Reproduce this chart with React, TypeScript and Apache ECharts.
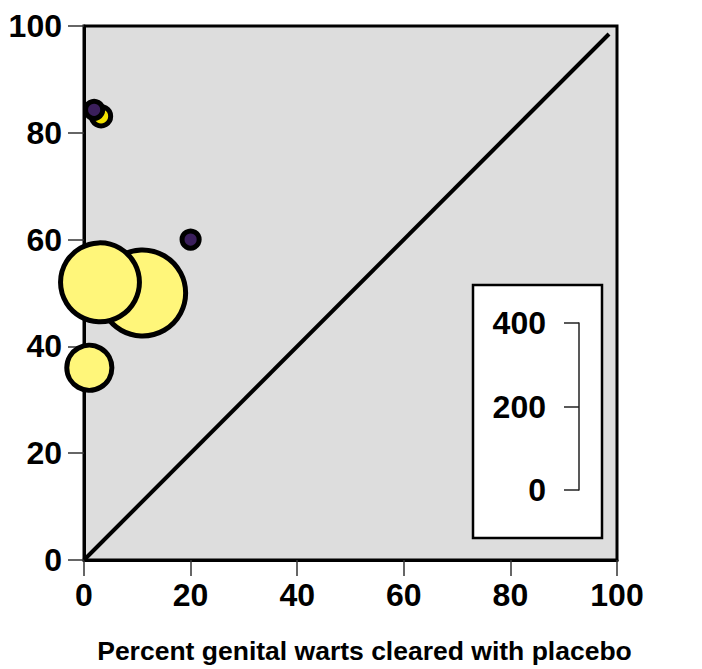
import React, { useEffect, useRef } from "react";
import * as echarts from "echarts";

// Data
const paleX = [11, 3, 1];
const paleY = [50, 52, 36];
const paleN = [206, 189, 108];
const brightX = [3.2];
const brightY = [83.1];
const brightN = [46];
const purpleX = [1.9, 20];
const purpleY = [84.3, 60];
const purpleN = [41, 41];
const diagX = [0, 98.5];
const diagY = [0, 98.5];
const axisTicks = [0, 20, 40, 60, 80, 100];
const sizeTicks = [0, 200, 400];
const xTitle = "Percent genital warts cleared with placebo";

const PX_PER_UNIT = 167 / 400;
const FONT = "'Liberation Sans', Arial, Helvetica, sans-serif";

const zip = (xs: number[], ys: number[], ns: number[]) => xs.map((x, i) => [x, ys[i], ns[i]]);

export default function App() {
  const ref = useRef<HTMLDivElement>(null);
  useEffect(() => {
    if (!ref.current) return;
    const chart = echarts.init(ref.current, undefined, { renderer: "svg" });
    const labelStyle = { fontSize: 32, fontWeight: "bold", color: "#000", fontFamily: FONT };
    const bubble = (data: number[][], color: string) => ({
      type: "scatter",
      xAxisIndex: 0,
      yAxisIndex: 0,
      data,
      symbolSize: (v: number[]) => v[2] * PX_PER_UNIT,
      itemStyle: { color, borderColor: "#000", borderWidth: 5, opacity: 1 },
      z: 3,
    });
    chart.setOption({
      animation: false,
      grid: [
        { left: 84, top: 26, width: 533, height: 534, show: true, backgroundColor: "#dddddd", borderColor: "#000", borderWidth: 3, z: 0 },
        { left: 579, top: 323, width: 0, height: 400 * PX_PER_UNIT, z: 4 },
        { left: 473, top: 285, width: 129, height: 253, show: true, backgroundColor: "#fff", borderColor: "#000", borderWidth: 2.5, z: 3 },
      ],
      xAxis: [
        {
          gridIndex: 0,
          type: "value",
          min: axisTicks[0],
          max: axisTicks[axisTicks.length - 1],
          interval: 20,
          axisLine: { show: true, lineStyle: { color: "#000", width: 3 } },
          axisTick: { show: true, length: 16, lineStyle: { color: "#333", width: 1.5 } },
          axisLabel: { ...labelStyle, margin: 19 },
          splitLine: { show: false },
          name: xTitle,
          nameLocation: "middle",
          nameGap: 77,
          nameTextStyle: { fontSize: 26.5, fontWeight: "bold", color: "#000", fontFamily: FONT, padding: [0, 0, 0, 28] },
        },
        { gridIndex: 1, type: "value", show: false, min: 0, max: 1 },
        { gridIndex: 2, type: "value", show: false, min: 0, max: 1 },
      ],
      yAxis: [
        {
          gridIndex: 0,
          type: "value",
          min: axisTicks[0],
          max: axisTicks[axisTicks.length - 1],
          interval: 20,
          axisLine: { show: true, lineStyle: { color: "#000", width: 3 } },
          axisTick: { show: true, length: 16, lineStyle: { color: "#333", width: 1.5 } },
          axisLabel: { ...labelStyle, margin: 22 },
          splitLine: { show: false },
        },
        {
          gridIndex: 1,
          type: "value",
          position: "left",
          min: sizeTicks[0],
          max: sizeTicks[sizeTicks.length - 1],
          interval: 200,
          z: 6,
          axisLine: { show: true, lineStyle: { color: "#222", width: 1.5 } },
          axisTick: { show: true, length: 15, lineStyle: { color: "#222", width: 1.5 } },
          axisLabel: { ...labelStyle, margin: 33, padding: [8, 0, 0, 0] },
          splitLine: { show: false },
        },
        { gridIndex: 2, type: "value", show: false, min: 0, max: 1 },
      ],
      series: [
        {
          type: "line",
          xAxisIndex: 0,
          yAxisIndex: 0,
          data: diagX.map((x, i) => [x, diagY[i]]),
          showSymbol: false,
          symbol: "none",
          lineStyle: { color: "#000", width: 4 },
          z: 2,
        },
        bubble(zip(paleX, paleY, paleN), "#fff67a"),
        bubble(zip(brightX, brightY, brightN), "#f2e200"),
        bubble(zip(purpleX, purpleY, purpleN), "#3b1f5c"),
        { type: "scatter", xAxisIndex: 1, yAxisIndex: 1, data: [], silent: true },
        { type: "scatter", xAxisIndex: 2, yAxisIndex: 2, data: [], silent: true },
      ],
    });
    return () => chart.dispose();
  }, []);
  return <div ref={ref} style={{ width: 702, height: 669, position: "absolute", left: 0, top: 0 }} />;
}
